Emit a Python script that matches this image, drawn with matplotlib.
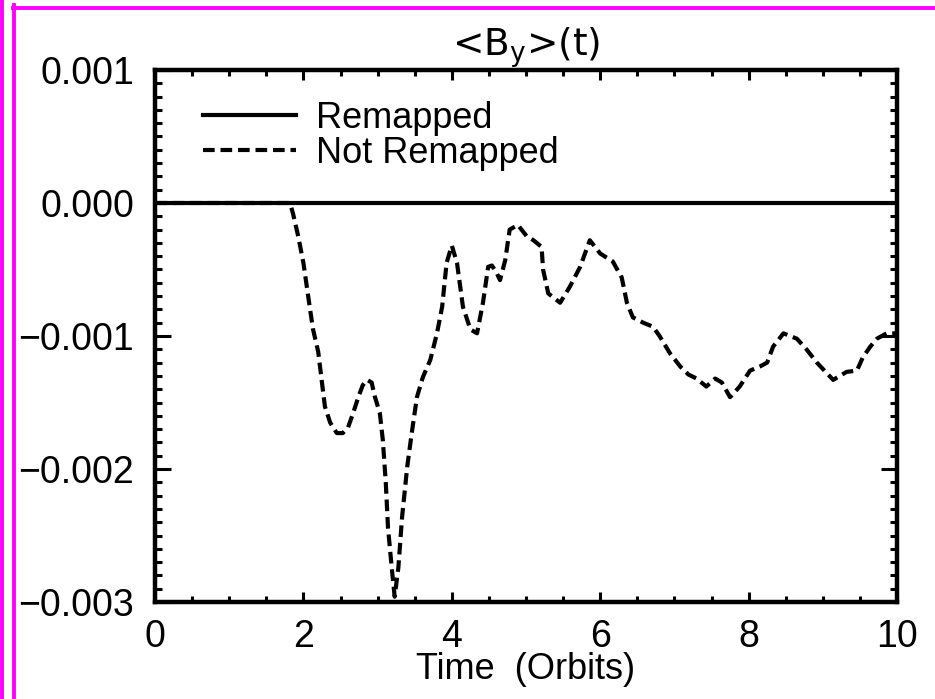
import numpy as np
import matplotlib
matplotlib.use("Agg")
import matplotlib.pyplot as plt
from matplotlib.lines import Line2D
from matplotlib.ticker import MultipleLocator, FuncFormatter

plt.rcParams["font.family"] = ["Liberation Sans", "DejaVu Sans"]
plt.rcParams["mathtext.default"] = "regular"

# time in orbits
t_remap = [0.0, 10.0]
by_remap = [0.0, 0.0]  # units of 1e-3

t_noremap = [0.0, 1.82, 1.86, 1.93, 2.0, 2.09, 2.13, 2.20, 2.25, 2.29, 2.36, 2.45, 2.53,
             2.60, 2.67, 2.74, 2.80, 2.86, 2.92, 2.96, 3.03, 3.07, 3.11, 3.14, 3.19, 3.23,
             3.28, 3.33, 3.40, 3.46, 3.53, 3.61, 3.71, 3.80, 3.87, 3.93, 4.00, 4.07, 4.15,
             4.25, 4.34, 4.42, 4.49, 4.54, 4.60, 4.65, 4.72, 4.78, 4.89, 5.01, 5.10, 5.21,
             5.23, 5.30, 5.46, 5.59, 5.73, 5.86, 6.00, 6.17, 6.29, 6.36, 6.44, 6.58, 6.71,
             6.80, 6.94, 7.08, 7.19, 7.30, 7.43, 7.55, 7.64, 7.75, 7.88, 8.02, 8.15, 8.25,
             8.33, 8.47, 8.65, 8.78, 8.92, 9.14, 9.32, 9.46, 9.54, 9.64, 9.73, 9.86, 10.0]
by_noremap = [0.0, 0.0, -0.08, -0.25, -0.45, -0.80, -0.95, -1.12, -1.35, -1.53, -1.65, -1.73, -1.73,
              -1.69, -1.58, -1.46, -1.37, -1.33, -1.35, -1.45, -1.58, -1.78, -2.10, -2.44, -2.74, -2.96,
              -2.74, -2.36, -1.98, -1.73, -1.46, -1.31, -1.18, -0.98, -0.78, -0.45, -0.32, -0.45, -0.78,
              -0.95, -0.98, -0.75, -0.48, -0.47, -0.52, -0.58, -0.43, -0.20, -0.165, -0.25, -0.28, -0.33,
              -0.50, -0.68, -0.75, -0.63, -0.48, -0.28, -0.38, -0.44, -0.56, -0.75, -0.86, -0.90, -0.93,
              -1.00, -1.13, -1.23, -1.29, -1.32, -1.38, -1.32, -1.35, -1.46, -1.38, -1.26, -1.23, -1.20,
              -1.08, -0.98, -1.02, -1.10, -1.20, -1.33, -1.27, -1.26, -1.16, -1.08, -1.02, -0.98, -0.98]

fig = plt.figure(figsize=(9.35, 6.99), dpi=100)
ax = fig.add_axes([155/935, 97/699, 742/935, 532/699])

ax.plot(t_remap, np.array(by_remap) * 1e-3, color="black", lw=3.0, label="Remapped")
ax.plot(t_noremap, np.array(by_noremap) * 1e-3, color="black", lw=3.0,
        dashes=(2.8, 1.4), label="Not Remapped")

ax.set_xlim(0, 10)
ax.set_ylim(-0.003, 0.001)
ax.xaxis.set_major_locator(MultipleLocator(2))
ax.xaxis.set_minor_locator(MultipleLocator(0.5))
ax.yaxis.set_major_locator(MultipleLocator(0.001))
ax.yaxis.set_minor_locator(MultipleLocator(0.0001))
ax.yaxis.set_major_formatter(FuncFormatter(lambda v, p: f"{v:.3f}".replace("-", "\u2212")))
ax.xaxis.set_major_formatter(FuncFormatter(lambda v, p: f"{v:.0f}"))

for s in ax.spines.values():
    s.set_linewidth(3.2)
ax.tick_params(axis="both", which="both", direction="in", top=True, right=True,
               width=2.2, labelsize=27, color="black")
ax.tick_params(axis="x", which="major", length=7.5, pad=12)
ax.tick_params(axis="x", which="minor", length=4)
ax.tick_params(axis="y", which="major", length=11.5, pad=15)
ax.tick_params(axis="y", which="minor", length=5)

ax.set_title("<B$_y$>(t)", fontsize=27, pad=6, family=["DejaVu Sans"])
ax.set_xlabel("Time  (Orbits)", fontsize=26, labelpad=-2)

ax.legend(loc="upper left", bbox_to_anchor=(0.03, 0.99), frameon=False, fontsize=26,
          handlelength=2.6, handletextpad=0.55, labelspacing=0.0, borderpad=0.2)

# magenta frame around the picture
fig.add_artist(Line2D([1.5/935, 1.5/935], [0, 1], color="magenta", lw=2.8))
fig.add_artist(Line2D([14/935, 14/935], [0, 1 - 5/699], color="magenta", lw=2.8))
fig.add_artist(Line2D([12.5/935, 1], [1 - 7.5/699, 1 - 7.5/699], color="magenta", lw=2.8))

fig.savefig("out.png", dpi=100)
